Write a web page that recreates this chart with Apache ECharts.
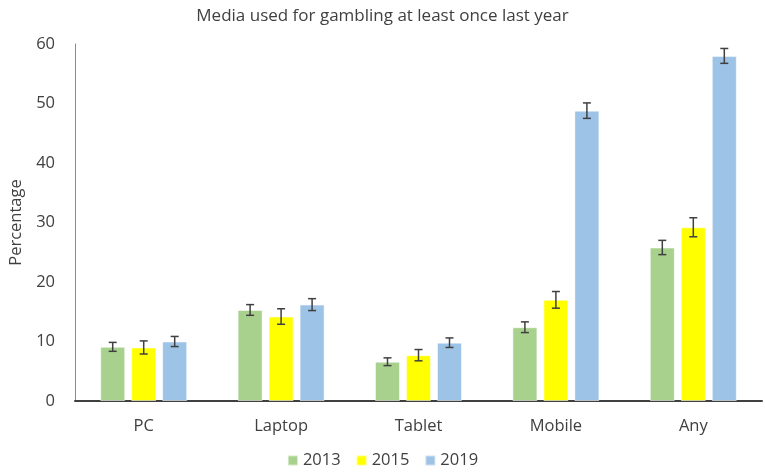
<!DOCTYPE html>
<html>
<head>
<meta charset="utf-8">
<script src="https://cdn.jsdelivr.net/npm/echarts@6/dist/echarts.min.js"></script>
<style>html,body{margin:0;padding:0;background:#fff}#c{width:765px;height:476px}</style>
</head>
<body>
<div id="c"></div>
<script>
const categories = ['PC', 'Laptop', 'Tablet', 'Mobile', 'Any'];
const years = ['2013', '2015', '2019'];
const values2013 = [9.1, 15.3, 6.6, 12.4, 25.8];
const values2015 = [9.0, 14.2, 7.7, 17.0, 29.2];
const values2019 = [10.0, 16.2, 9.8, 48.8, 58.0];
const err2013 = [0.75, 0.9, 0.65, 0.9, 1.2];
const err2015 = [1.1, 1.3, 0.95, 1.4, 1.6];
const err2019 = [0.85, 1.0, 0.8, 1.3, 1.25];
const yTicks = [0, 10, 20, 30, 40, 50, 60];

const colors = ['#A9D18E', '#FFFF00', '#9DC3E6'];
const allValues = [values2013, values2015, values2019];
const allErr = [err2013, err2015, err2019];
const BAR_W = 25, BAR_STEP = 31;

const chart = echarts.init(document.getElementById('c'));
const font = '"Open Sans", "Noto Sans", sans-serif';

const series = [];
years.forEach((y, i) => {
  series.push({
    name: y, type: 'bar', data: allValues[i], barWidth: BAR_W, barGap: '24%',
    itemStyle: { color: colors[i], borderColor: 'rgba(255,255,255,0.5)', borderWidth: 1 }
  });
});
years.forEach((y, i) => {
  series.push({
    type: 'custom', name: y + ' err', z: 10, silent: true,
    data: categories.map((c, k) => [k, allValues[i][k] - allErr[i][k], allValues[i][k] + allErr[i][k]]),
    renderItem: function (params, api) {
      const lo = api.coord([api.value(0), api.value(1)]);
      const hi = api.coord([api.value(0), api.value(2)]);
      const x = lo[0] + (i - 1) * BAR_STEP;
      const cap = 4;
      const st = { stroke: '#404040', lineWidth: 1.5 };
      return { type: 'group', children: [
        { type: 'line', shape: { x1: x, y1: lo[1], x2: x, y2: hi[1] }, style: st },
        { type: 'line', shape: { x1: x - cap, y1: lo[1], x2: x + cap, y2: lo[1] }, style: st },
        { type: 'line', shape: { x1: x - cap, y1: hi[1], x2: x + cap, y2: hi[1] }, style: st }
      ]};
    }
  });
});

chart.setOption({
  animation: false,
  title: { text: 'Media used for gambling at least once last year', left: 'center', top: 3,
    textStyle: { fontFamily: font, fontSize: 17, fontWeight: 'normal', color: '#404040' } },
  legend: { data: years, bottom: 2, left: 'center', icon: 'rect', itemWidth: 10, itemHeight: 10, itemGap: 15,
    textStyle: { fontFamily: font, fontSize: 16.5, color: '#404040' } },
  grid: { left: 72, right: 3, top: 44, bottom: 75 },
  xAxis: { type: 'category', data: categories,
    axisLine: { lineStyle: { color: '#404040', width: 2 } }, axisTick: { show: false },
    axisLabel: { fontFamily: font, fontSize: 16.5, color: '#404040', margin: 17 } },
  yAxis: { type: 'value', min: yTicks[0], max: yTicks[yTicks.length - 1], interval: 10,
    name: 'Percentage', nameLocation: 'middle', nameGap: 50,
    nameTextStyle: { fontFamily: font, fontSize: 16.5, color: '#404040' },
    axisLine: { show: true, lineStyle: { color: '#8c8c8c', width: 1 } }, axisTick: { show: false },
    splitLine: { show: false },
    axisLabel: { fontFamily: font, fontSize: 16.5, color: '#404040', margin: 20 } },
  series: series
});
</script>
</body>
</html>
